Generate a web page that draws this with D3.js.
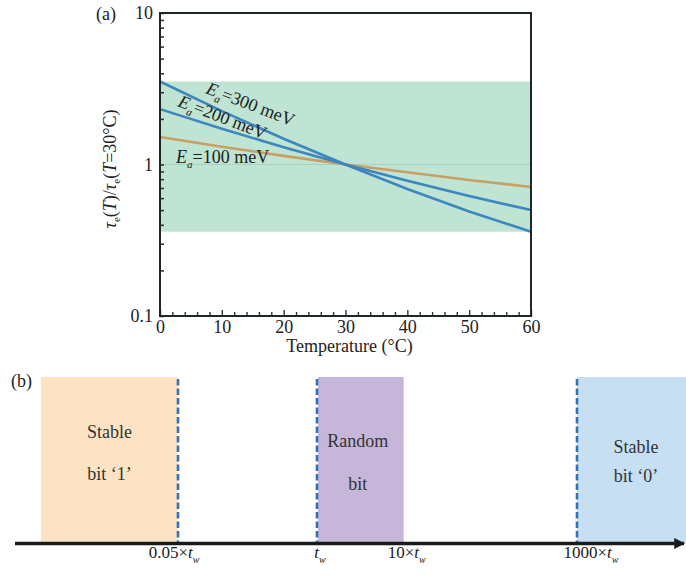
<!DOCTYPE html>
<html>
<head>
<meta charset="utf-8">
<script src="https://cdn.jsdelivr.net/npm/d3@7"></script>
<style>
  body { margin: 0; background: #fff; }
  text { font-family: "Liberation Serif", "Times New Roman", serif; fill: #222; }
</style>
</head>
<body>
<script>
var width = 686,
    height = 576;

// panel (a) data
var temps = [0, 10, 20, 30, 40, 50, 60];
var ratio300 = [3.53, 2.25, 1.48, 1, 0.69, 0.49, 0.36];
var ratio200 = [2.32, 1.72, 1.30, 1, 0.78, 0.62, 0.50];
var ratio100 = [1.52, 1.31, 1.14, 1, 0.89, 0.79, 0.71];
var bandRange = [0.36, 3.53];
var energies = ['300', '200', '100'];
var yLabels = [0.1, 1, 10];

// panel (b) data
var markTimes = [0.05, 1, 10, 1000];
var markPrefix = ['0.05×', '', '10×', '1000×'];
var dashTimes = [0.05, 1, 1000];
var regionFrom = [0.0026, 1, 1000];
var regionTo = [0.05, 10, 20000];
var regionText = [['Stable', 'bit ‘1’'], ['Random', 'bit'], ['Stable', 'bit ‘0’']];
var regionFill = ['#fce3c3', '#c5b6da', '#c6dff2'];

var svg = d3.select('body').append('svg')
    .attr('width', width)
    .attr('height', height);

// ---------- panel (a)
var plotL = 160, plotR = 531, plotT = 13, plotB = 316;

var x = d3.scaleLinear().domain([0, 60]).range([plotL, plotR]);
var y = d3.scaleLog().domain([0.1, 10]).range([plotB, plotT]);

svg.append('rect')
    .attr('x', x(0)).attr('width', x(60) - x(0))
    .attr('y', y(bandRange[1])).attr('height', y(bandRange[0]) - y(bandRange[1]))
    .style('fill', '#bfe4d3');

svg.append('line')
    .attr('x1', x(0)).attr('x2', x(60))
    .attr('y1', y(1)).attr('y2', y(1))
    .style('stroke', '#a6d3bf').style('stroke-width', 1.2);

var line = d3.line()
    .x(function(d, i) { return x(temps[i]); })
    .y(function(d) { return y(d); });

[[ratio100, '#c9a064'], [ratio200, '#3d86bf'], [ratio300, '#3d86bf']].forEach(function(s) {
  svg.append('path')
      .datum(s[0])
      .attr('d', line)
      .style('fill', 'none')
      .style('stroke', s[1])
      .style('stroke-width', 2.6);
});

// left ticks, pointing inward
var yTicks = [];
[0.1, 1].forEach(function(dec) {
  for (var k = 1; k < 10; k++) yTicks.push(dec * k);
});
yTicks.push(10);

var yAxis = svg.append('g')
    .attr('transform', 'translate(' + plotL + ',0)')
    .call(d3.axisLeft(y).tickValues(yTicks).tickSize(-4).tickPadding(7)
      .tickFormat(function(d) {
        var hit = yLabels.filter(function(v) { return Math.abs(v - d) < 1e-9; });
        return hit.length ? String(hit[0]) : '';
      }));
yAxis.select('.domain').remove();
yAxis.selectAll('line').style('stroke', '#2a3a3a').style('stroke-width', 1.6);
yAxis.selectAll('text').style('font-size', '18px').style('font-family', 'Liberation Serif').style('fill', '#222');

var xAxis = svg.append('g')
    .attr('transform', 'translate(0,' + plotB + ')')
    .call(d3.axisBottom(x).tickValues(d3.range(0, 61, 2)).tickSize(-4).tickPadding(4)
      .tickFormat(function(d) { return d % 10 === 0 ? d : ''; }));
xAxis.select('.domain').remove();
xAxis.selectAll('line').style('stroke', '#2a3a3a').style('stroke-width', 1.4);
xAxis.selectAll('.tick').filter(function(d) { return d % 10 === 0; })
    .select('line').attr('y2', -6);
xAxis.selectAll('text').style('font-size', '18px').style('font-family', 'Liberation Serif').style('fill', '#222');

svg.append('rect')
    .attr('x', plotL).attr('y', plotT)
    .attr('width', plotR - plotL).attr('height', plotB - plotT)
    .style('fill', 'none').style('stroke', '#1e2626').style('stroke-width', 2);

svg.append('text').attr('x', 96).attr('y', 20).style('font-size', '18px').text('(a)');

svg.append('text')
    .attr('x', (plotL + plotR) / 2 + 4).attr('y', 352)
    .attr('text-anchor', 'middle').style('font-size', '18px')
    .text('Temperature (°C)');

var yt = svg.append('text')
    .attr('transform', 'translate(116,169) rotate(-90)')
    .attr('text-anchor', 'middle').style('font-size', '18px');
yt.append('tspan').style('font-style', 'italic').text('τ');
yt.append('tspan').attr('dy', 4).style('font-size', '11px').text('e');
yt.append('tspan').attr('dy', -4).text('(');
yt.append('tspan').style('font-style', 'italic').text('T');
yt.append('tspan').text(')/');
yt.append('tspan').style('font-style', 'italic').text('τ');
yt.append('tspan').attr('dy', 4).style('font-size', '11px').text('e');
yt.append('tspan').attr('dy', -4).text('(');
yt.append('tspan').style('font-style', 'italic').text('T');
yt.append('tspan').text('=30°C)');

// line labels
var labelPos = [[205, 93, 21], [177, 106, 21], [176, 163, 0]];
energies.forEach(function(e, i) {
  var p = labelPos[i];
  var t = svg.append('text')
      .attr('transform', 'translate(' + p[0] + ',' + p[1] + ') rotate(' + p[2] + ')')
      .style('font-size', '18px');
  t.append('tspan').style('font-style', 'italic').text('E');
  t.append('tspan').attr('dy', 5).style('font-size', '11px').style('font-style', 'italic').text('a');
  t.append('tspan').attr('dy', -5).text('=' + e + ' meV');
});

// ---------- panel (b)
var axisY = 543.5, boxTop = 377;
var tx = d3.scaleLog().domain([0.05, 1, 1000]).range([178, 317, 577]);

svg.append('text').attr('x', 11).attr('y', 387).style('font-size', '18px').text('(b)');

var textY = [[438, 480], [447, 490], [453, 482]];
regionFrom.forEach(function(f, i) {
  var x0 = tx(f) + (i === 1 ? 1 : 0), x1 = Math.min(tx(regionTo[i]), width);
  svg.append('rect')
      .attr('x', x0).attr('y', boxTop)
      .attr('width', x1 - x0).attr('height', axisY - boxTop)
      .style('fill', regionFill[i]);
  regionText[i].forEach(function(s, j) {
    svg.append('text')
        .attr('x', i === 2 ? 636 : (x0 + x1) / 2 - (i === 1 ? 3 : 0))
        .attr('y', textY[i][j])
        .attr('text-anchor', 'middle')
        .style('font-size', '18px').style('fill', '#333')
        .text(s);
  });
});

dashTimes.forEach(function(t) {
  svg.append('line')
      .attr('x1', tx(t)).attr('x2', tx(t))
      .attr('y1', boxTop + 2).attr('y2', axisY)
      .style('stroke', '#2f72b5').style('stroke-width', 2.6)
      .style('stroke-dasharray', '6.5,3');
});

svg.append('defs').append('marker')
    .attr('id', 'arrow').attr('viewBox', '0 0 10 10')
    .attr('refX', 9).attr('refY', 5)
    .attr('markerWidth', 3).attr('markerHeight', 3)
    .attr('orient', 'auto')
    .append('path').attr('d', 'M0,0L10,5L0,10z').style('fill', '#1a1a1a');

svg.append('line')
    .attr('x1', 15).attr('x2', width - 2)
    .attr('y1', axisY).attr('y2', axisY)
    .style('stroke', '#1a1a1a').style('stroke-width', 3.6)
    .attr('marker-end', 'url(#arrow)');

markTimes.forEach(function(t, i) {
  var lab = svg.append('text')
      .attr('x', tx(t) + (i === 3 ? 14 : (i === 0 ? -4 : 3)))
      .attr('y', 558)
      .attr('text-anchor', 'middle')
      .style('font-size', '17px');
  lab.append('tspan').text(markPrefix[i]);
  lab.append('tspan').style('font-style', 'italic').text('t');
  lab.append('tspan').attr('dy', 5).style('font-size', '10px').style('font-style', 'italic').text('w');
});
</script>
</body>
</html>
